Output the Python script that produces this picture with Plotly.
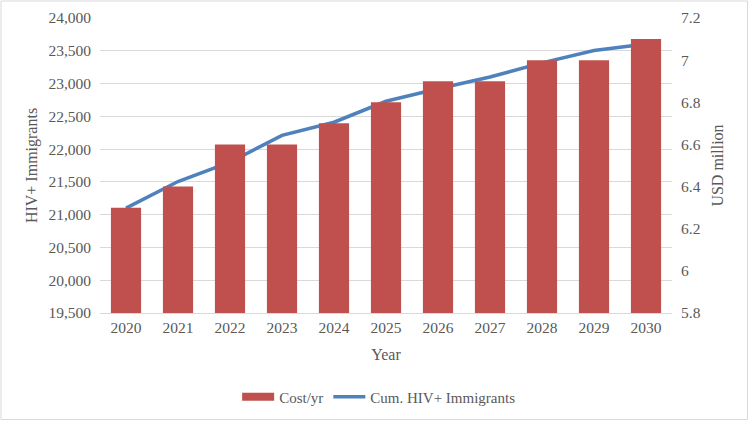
import plotly.graph_objects as go

# -------------------------
# Data
# -------------------------
years = ["2020", "2021", "2022", "2023", "2024", "2025", "2026", "2027", "2028", "2029", "2030"]
cost_per_year = [6.3, 6.4, 6.6, 6.6, 6.7, 6.8, 6.9, 6.9, 7.0, 7.0, 7.1]   # USD million
cum_hiv_immigrants = [21100, 21505, 21800, 22210, 22410, 22730, 22920, 23100, 23315, 23505, 23605]

W, H = 749, 421
ML, MR, MT, MB = 100, 77, 18, 108
FONT = "Liberation Serif, Times New Roman, serif"
GREY = "#595959"
RED = "#C0504D"
BLUE = "#4F81BD"

fig = go.Figure()

# bars -> right axis (USD million)
fig.add_trace(go.Bar(
    x=years, y=cost_per_year, name="Cost/yr",
    marker=dict(color=RED, line=dict(width=0)),
    yaxis="y2", showlegend=False,
))

# line -> left axis (HIV+ immigrants)
fig.add_trace(go.Scatter(
    x=years, y=cum_hiv_immigrants, name="Cum. HIV+ Immigrants",
    mode="lines", line=dict(color=BLUE, width=3.5),
    yaxis="y", showlegend=False,
))

# legend entries (wide bar swatch like the original)
fig.add_trace(go.Scatter(x=[None], y=[None], name="Cost/yr", mode="lines",
                         line=dict(color=RED, width=8)))
fig.add_trace(go.Scatter(x=[None], y=[None], name="Cum. HIV+ Immigrants", mode="lines",
                         line=dict(color=BLUE, width=3.5)))

# light border around the whole chart
pw = W - ML - MR
ph = H - MT - MB
fig.add_shape(
    type="rect", xref="paper", yref="paper",
    x0=-(ML - 1) / pw, x1=1 + (MR - 1.5) / pw,
    y0=-(MB - 1.5) / ph, y1=1 + (MT - 1) / ph,
    line=dict(color="#D9D9D9", width=1), layer="below",
)

fig.update_layout(
    width=W, height=H,
    margin=dict(l=ML, r=MR, t=MT, b=MB, autoexpand=False),
    paper_bgcolor="white", plot_bgcolor="white",
    font=dict(family=FONT, size=15, color=GREY),
    bargap=0.42,
    showlegend=True,
    legend=dict(
        orientation="h", x=0.488, xanchor="center", y=-0.285, yanchor="middle",
        font=dict(family=FONT, size=15, color=GREY),
        traceorder="normal", itemwidth=32, bgcolor="rgba(0,0,0,0)",
    ),
    xaxis=dict(
        title=dict(text="Year", font=dict(size=16, color=GREY), standoff=14),
        showgrid=False, showline=True, linecolor="#D9D9D9", ticks="",
        tickfont=dict(size=15.5, color=GREY), automargin=False,
    ),
    yaxis=dict(
        title=dict(text="HIV+ Immigrants", font=dict(size=16, color=GREY), standoff=6),
        range=[19500, 24000], dtick=500, tickformat=",d",
        showgrid=True, gridcolor="#D9D9D9", gridwidth=1,
        zeroline=False, ticks="", tickfont=dict(size=15.5, color=GREY),
        ticklabelstandoff=8, automargin=False,
    ),
    yaxis2=dict(
        title=dict(text="USD million", font=dict(size=16, color=GREY), standoff=12),
        range=[5.8, 7.2], dtick=0.2, overlaying="y", side="right",
        showgrid=False, zeroline=False, ticks="", tickformat="~g",
        tickfont=dict(size=15.5, color=GREY), ticklabelstandoff=8, automargin=False,
    ),
)

# remove the default page margin so the figure sits at the window's corner
fig.write_html("out.html", config={"displayModeBar": False},
               post_script="document.body.style.margin='0';")
